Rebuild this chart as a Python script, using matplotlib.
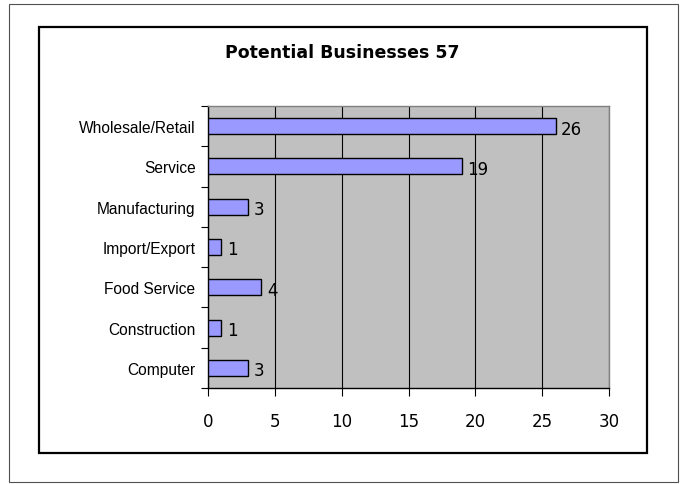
import numpy as np
import matplotlib.pyplot as plt
from matplotlib.patches import Rectangle

categories = ["Computer", "Construction", "Food Service", "Import/Export",
              "Manufacturing", "Service", "Wholesale/Retail"]
counts = [3, 1, 4, 1, 3, 19, 26]
x_ticks = [0, 5, 10, 15, 20, 25, 30]
title = "Potential Businesses 57"

fig = plt.figure(figsize=(6.8, 4.85), dpi=100)

# outer and inner chart frames
fig.patches.append(Rectangle((9/680, 2/485), 669/680, 478/485, transform=fig.transFigure,
                             fill=False, edgecolor='#505050', linewidth=0.8))
fig.patches.append(Rectangle((39/680, 31/485), 608/680, 426/485, transform=fig.transFigure,
                             fill=False, edgecolor='black', linewidth=1.6))

ax = fig.add_axes([208/680, 96/485, 401/680, 282/485])
ax.set_facecolor('#C0C0C0')

y = np.arange(len(categories))
ax.barh(y, counts, height=0.4, color='#9999FF', edgecolor='black', linewidth=1.0, zorder=3)
for yi, c in zip(y, counts):
    ax.text(c + 0.4, yi - 0.06, str(c), va='center', ha='left', fontsize=12,
            family='DejaVu Sans', zorder=4)

ax.set_xlim(0, 30)
ax.set_ylim(-0.5, len(categories) - 0.5)
ax.set_xticks(x_ticks)
ax.set_xticklabels([str(t) for t in x_ticks], fontsize=12, family='DejaVu Sans')
ax.tick_params(axis='x', length=6, width=0.8, pad=11, colors='black')

ax.set_yticks(y)
ax.set_yticklabels(categories, fontsize=11.2, family='Liberation Sans')
ax.set_yticks(np.arange(-0.5, len(categories), 1), minor=True)
ax.tick_params(axis='y', which='major', length=0, pad=9)
ax.tick_params(axis='y', which='minor', length=5, width=0.8)

ax.grid(axis='x', color='black', linewidth=0.8, zorder=1)
ax.set_axisbelow(True)

for s in ['top', 'right']:
    ax.spines[s].set_color('#808080')
    ax.spines[s].set_linewidth(1.0)
for s in ['left', 'bottom']:
    ax.spines[s].set_color('black')
    ax.spines[s].set_linewidth(1.0)

fig.text(342/680, 1 - 53/485, title, ha='center', va='center', fontsize=12.5,
         fontweight='bold', family='DejaVu Sans')

fig.savefig('out.png', dpi=100)
